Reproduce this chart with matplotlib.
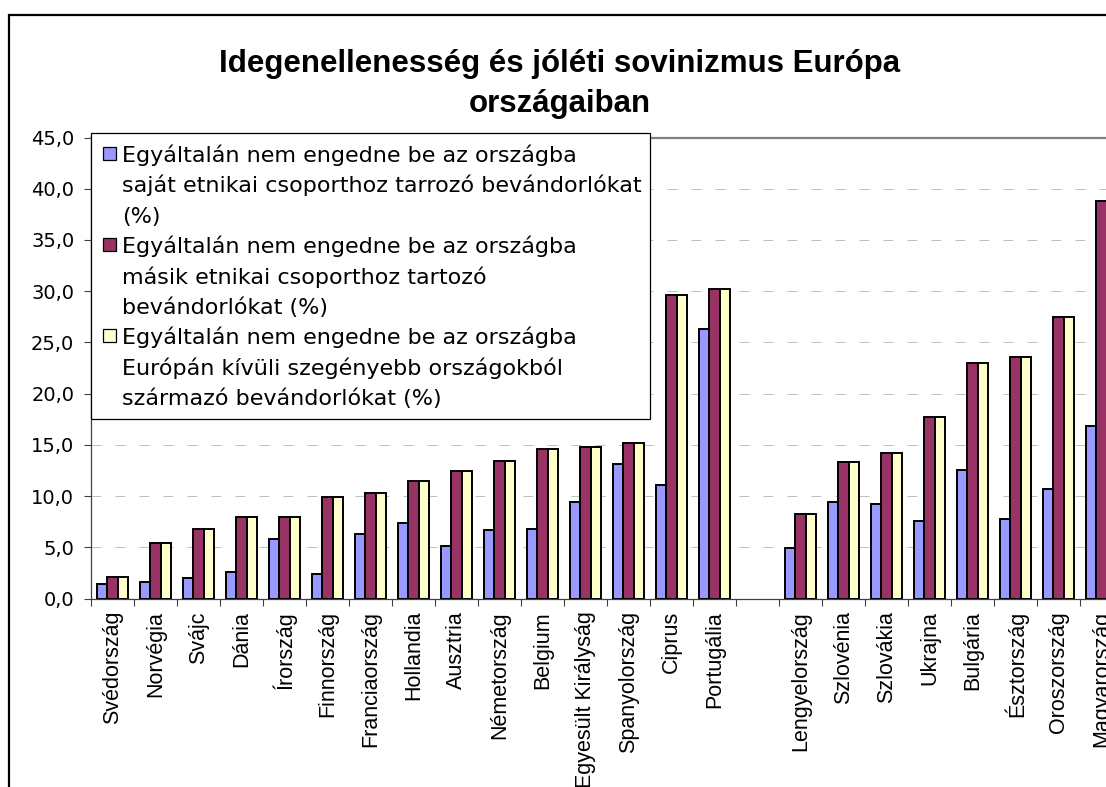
import numpy as np
import matplotlib
matplotlib.use("Agg")
import matplotlib.pyplot as plt
from matplotlib.patches import Rectangle

plt.rcParams['font.family'] = ['Liberation Sans', 'DejaVu Sans']

# data (the empty string is the blank gap category)
countries = ["Svédország", "Norvégia", "Svájc", "Dánia", "Írország", "Finnország",
             "Franciaország", "Hollandia", "Ausztria", "Németország", "Belgium",
             "Egyesült Királyság", "Spanyolország", "Ciprus", "Portugália", "",
             "Lengyelország", "Szlovénia", "Szlovákia", "Ukrajna", "Bulgária",
             "Észtország", "Oroszország", "Magyarország"]
own_group = [1.4, 1.6, 2.0, 2.6, 5.8, 2.4, 6.3, 7.4, 5.1, 6.7, 6.8, 9.4, 13.1, 11.1, 26.3, np.nan,
             4.9, 9.4, 9.2, 7.6, 12.5, 7.8, 10.7, 16.8]
other_group = [2.1, 5.4, 6.8, 8.0, 8.0, 9.9, 10.3, 11.5, 12.4, 13.4, 14.6, 14.8, 15.2, 29.6, 30.2, np.nan,
               8.2, 13.3, 14.2, 17.7, 23.0, 23.6, 27.5, 38.8]
poorer_non_eu = [2.1, 5.4, 6.8, 8.0, 8.0, 9.9, 10.3, 11.5, 12.4, 13.4, 14.6, 14.8, 15.2, 29.6, 30.2, np.nan,
                 8.2, 13.3, 14.2, 17.7, 23.0, 23.6, 27.5, 38.8]
series_labels = [
    ["Egyáltalán nem engedne be az országba", "saját etnikai csoporthoz tarrozó bevándorlókat", "(%)"],
    ["Egyáltalán nem engedne be az országba", "másik etnikai csoporthoz tartozó", "bevándorlókat (%)"],
    ["Egyáltalán nem engedne be az országba", "Európán kívüli szegényebb országokból", "származó bevándorlókat (%)"],
]
colors = ["#9999FF", "#993366", "#FFFFCC"]
yticks = [0, 5, 10, 15, 20, 25, 30, 35, 40, 45]
title_lines = ["Idegenellenesség és jóléti sovinizmus Európa", "országaiban"]

W, H = 1106, 787
fig = plt.figure(figsize=(W / 100, H / 100), dpi=100)


def fx(px):
    return px / W


def fy(py):
    return 1 - py / H


# axes placed in pixel terms; right part runs off the figure like the reference
left, right, top, bottom = 91, 91 + 24 * 43, 137.5, 598.5
ax = fig.add_axes([fx(left), fy(bottom), (right - left) / W, (bottom - top) / H])

x = np.arange(len(countries))
bw = 0.233
for k, vals in enumerate([own_group, other_group, poorer_non_eu]):
    ax.bar(x + (k - 1) * bw, vals, bw, color=colors[k], edgecolor="black",
           linewidth=1.4, zorder=3)

ax.set_xlim(-0.5, len(countries) - 0.5)
ax.set_ylim(0, 45)
ax.set_yticks(yticks)
ax.set_yticklabels([f"{v:.1f}".replace(".", ",") for v in yticks], fontsize=14,
                   family=["DejaVu Sans"])
for v in yticks[1:-1]:
    ax.axhline(v, color="#C0C0C0", linewidth=0.72, linestyle=(0, (10, 14)), zorder=1)

ax.set_xticks(x)
ax.set_xticklabels(countries, rotation=90, fontsize=15.5, va="top")
ax.tick_params(axis="x", which="major", length=0, pad=9)
ax.set_xticks(np.arange(len(countries) + 1) - 0.5, minor=True)
ax.tick_params(axis="x", which="minor", length=5, width=0.8, direction="out", color="#404040")
ax.tick_params(axis="y", length=5, width=0.8, direction="out", color="#404040", pad=7)

for s in ["left", "bottom"]:
    ax.spines[s].set_color("#404040")
    ax.spines[s].set_linewidth(0.9)
for s in ["top", "right"]:
    ax.spines[s].set_color("#808080")
    ax.spines[s].set_linewidth(1.6)

# legend box drawn by hand so each marker sits on the first line of its entry
fig.patches.append(Rectangle((fx(91), fy(419)), (650 - 91) / W, (419 - 133) / H,
                             transform=fig.transFigure, facecolor="white",
                             edgecolor="black", linewidth=0.9, zorder=5))
line_no = 0
for k, lines in enumerate(series_labels):
    base = 162 + 30.4 * line_no
    fig.patches.append(Rectangle((fx(103), fy(base - 2.5)), 13 / W, 13 / H,
                                 transform=fig.transFigure, facecolor=colors[k],
                                 edgecolor="black", linewidth=0.9, zorder=6))
    for ln in lines:
        fig.text(fx(122), fy(162 + 30.4 * line_no), ln, ha="left", va="baseline",
                 fontsize=16, family=["DejaVu Sans"], zorder=6)
        line_no += 1

for i, t in enumerate(title_lines):
    fig.text(fx(559.5), fy(71.7 + 40 * i), t, ha="center", va="baseline",
             fontsize=22.5, fontweight="bold")

# outer chart border
fig.patches.append(Rectangle((fx(9), -0.2), 1.2, 1.2 - 15 / H, transform=fig.transFigure,
                             fill=False, edgecolor="black", linewidth=1.6, zorder=10))

fig.savefig("out.png", dpi=100)
